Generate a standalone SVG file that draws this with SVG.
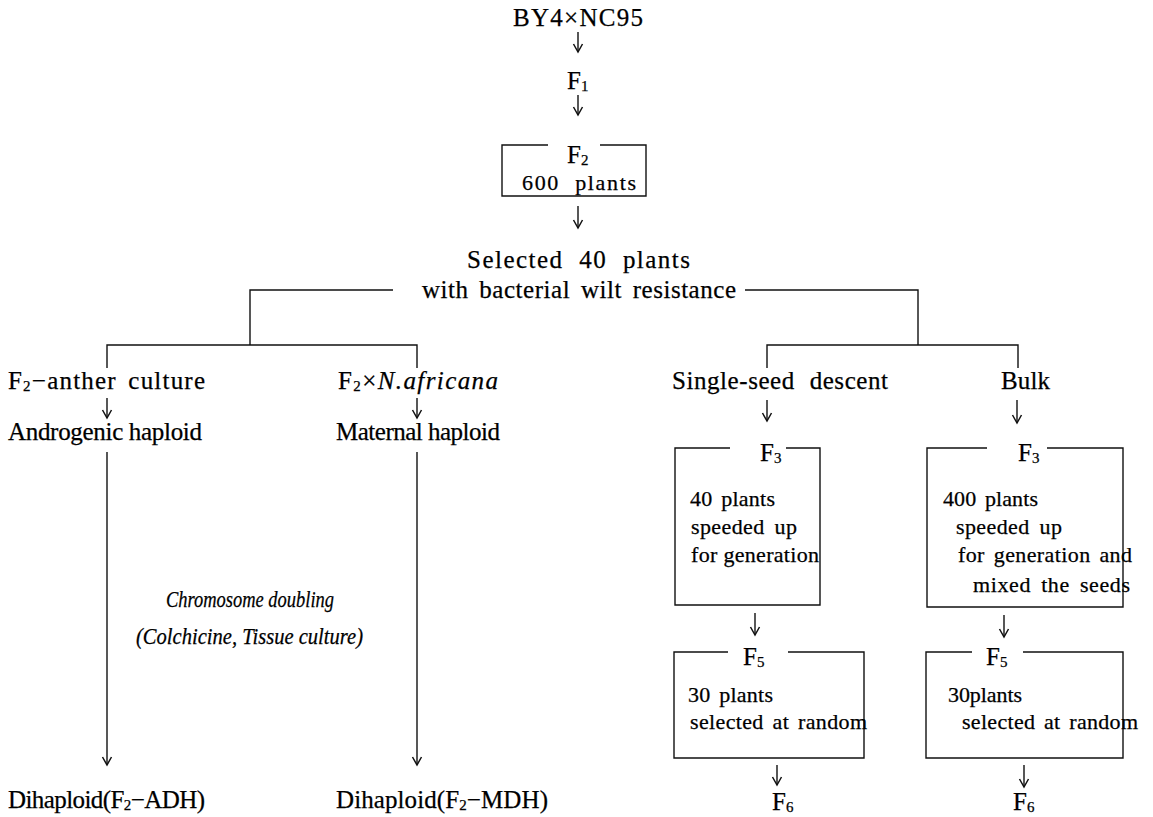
<svg xmlns="http://www.w3.org/2000/svg" width="1153" height="817" viewBox="0 0 1153 817">
<defs>
<style>
.t{font-family:"Liberation Serif","Times New Roman",serif;font-size:25px;fill:#000;stroke:#000;stroke-width:0.25}
.b{font-size:22px}
.i{font-style:italic;font-size:23px}
.s{font-size:15px}
.ln{stroke:#111;stroke-width:1.4;fill:none}
.ar{marker-end:url(#ah)}
</style>
<marker id="ah" markerUnits="userSpaceOnUse" viewBox="-10 -10 20 20" markerWidth="20" markerHeight="20" refX="0" refY="0" orient="auto" overflow="visible">
<path d="M-8,-4.5 L0,0 L-8,4.5" fill="none" stroke="#111" stroke-width="1.5"/>
</marker>
</defs>
<rect width="1153" height="817" fill="#fff"/>
<g id="connectors">
<path class="ln ar" d="M578,32 V52"/>
<path class="ln ar" d="M578,95 V115"/>
<path class="ln ar" d="M578,206 V228"/>
<path class="ln" d="M250,345 V290 H393"/>
<path class="ln" d="M745,290 H918 V345"/>
<path class="ln" d="M107,368 V345 H417 V368"/>
<path class="ln" d="M767,368 V345 H1018 V368"/>
<path class="ln ar" d="M107,398 V418"/>
<path class="ln ar" d="M417,398 V418"/>
<path class="ln ar" d="M767,400 V421"/>
<path class="ln ar" d="M1017,400 V423"/>
<path class="ln ar" d="M107,452 V765"/>
<path class="ln ar" d="M417,452 V765"/>
<path class="ln ar" d="M755,613 V635"/>
<path class="ln ar" d="M1004,615 V637"/>
<path class="ln ar" d="M777,765 V785"/>
<path class="ln ar" d="M1024,765 V787"/>
</g>
<g id="n-cross"><text class="t" x="513" y="26" textLength="130">BY4×NC95</text></g>
<g id="n-f1"><text class="t" x="567" y="89">F<tspan class="s" dy="2">1</tspan></text></g>
<g id="n-f2">
<path class="ln" d="M548,145 H502 V196 H646 V145 H600"/>
<text class="t" x="567" y="163">F<tspan class="s" dy="2">2</tspan></text>
<text class="t b" x="522" y="190" word-spacing="8" textLength="114">600 plants</text>
</g>
<g id="n-selected">
<text class="t" x="467" y="268" word-spacing="8" textLength="223">Selected 40 plants</text>
<text class="t" x="422" y="298" word-spacing="4" textLength="314">with bacterial wilt resistance</text>
</g>
<g id="n-anther"><text class="t" x="8" y="389" word-spacing="4" textLength="197">F<tspan class="s" dy="2">2</tspan><tspan dy="-2">−anther culture</tspan></text></g>
<g id="n-africana"><text class="t" x="338" y="389" textLength="160">F<tspan class="s" dy="2">2</tspan><tspan dy="-2">×</tspan><tspan font-style="italic">N.africana</tspan></text></g>
<g id="n-ssd"><text class="t" x="672" y="389" word-spacing="8" textLength="216">Single-seed descent</text></g>
<g id="n-bulk"><text class="t" x="1001" y="389" textLength="49">Bulk</text></g>
<g id="n-andro"><text class="t" x="8" y="440" textLength="194">Androgenic haploid</text></g>
<g id="n-maternal"><text class="t" x="336" y="440" textLength="164">Maternal haploid</text></g>
<g id="n-doubling">
<text class="t i" x="166" y="607" textLength="168" lengthAdjust="spacingAndGlyphs">Chromosome doubling</text>
<text class="t i" x="136" y="644" textLength="227" lengthAdjust="spacingAndGlyphs">(Colchicine, Tissue culture)</text>
</g>
<g id="n-adh"><text class="t" x="8" y="808" textLength="197">Dihaploid(F<tspan class="s" dy="2">2</tspan><tspan dy="-2">−ADH)</tspan></text></g>
<g id="n-mdh"><text class="t" x="336" y="808" textLength="212">Dihaploid(F<tspan class="s" dy="2">2</tspan><tspan dy="-2">−MDH)</tspan></text></g>
<g id="n-ssd-f3">
<path class="ln" d="M730,448 H675 V605 H820 V448 H786"/>
<text class="t" x="760" y="461">F<tspan class="s" dy="2">3</tspan></text>
<text class="t b" x="690" y="506" word-spacing="3" textLength="85">40 plants</text>
<text class="t b" x="691" y="534" word-spacing="4" textLength="106">speeded up</text>
<text class="t b" x="691" y="562" textLength="128">for generation</text>
</g>
<g id="n-bulk-f3">
<path class="ln" d="M987,448 H927 V607 H1123 V448 H1047"/>
<text class="t" x="1018" y="461">F<tspan class="s" dy="2">3</tspan></text>
<text class="t b" x="943" y="506" word-spacing="3" textLength="95">400 plants</text>
<text class="t b" x="956" y="534" word-spacing="4" textLength="106">speeded up</text>
<text class="t b" x="958" y="562" word-spacing="3" textLength="174">for generation and</text>
<text class="t b" x="973" y="592" word-spacing="4" textLength="157">mixed the seeds</text>
</g>
<g id="n-ssd-f5">
<path class="ln" d="M728,652 H674 V758 H864 V652 H788"/>
<text class="t" x="743" y="665">F<tspan class="s" dy="2">5</tspan></text>
<text class="t b" x="688" y="702" word-spacing="3" textLength="85">30 plants</text>
<text class="t b" x="690" y="729" word-spacing="3" textLength="177">selected at random</text>
</g>
<g id="n-bulk-f5">
<path class="ln" d="M972,652 H926 V758 H1123 V652 H1023"/>
<text class="t" x="986" y="665">F<tspan class="s" dy="2">5</tspan></text>
<text class="t b" x="948" y="702" textLength="74">30plants</text>
<text class="t b" x="962" y="729" word-spacing="3" textLength="176">selected at random</text>
</g>
<g id="n-ssd-f6"><text class="t" x="772" y="810">F<tspan class="s" dy="2">6</tspan></text></g>
<g id="n-bulk-f6"><text class="t" x="1013" y="810">F<tspan class="s" dy="2">6</tspan></text></g>
</svg>
